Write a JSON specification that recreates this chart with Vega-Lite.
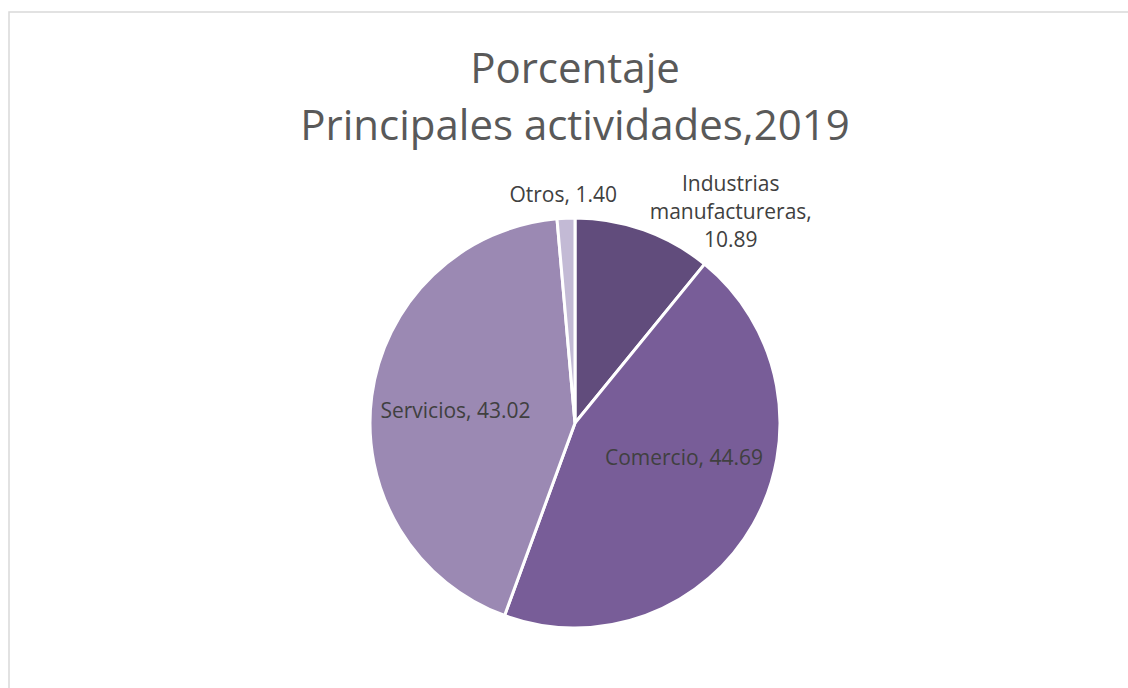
{
  "$schema": "https://vega.github.io/schema/vega-lite/v6.json",
  "autosize": "none",
  "width": 1132,
  "height": 822,
  "padding": {"left": 9, "top": 12, "right": -13, "bottom": -146},
  "background": "white",
  "view": {"stroke": "#d9d9d9", "strokeWidth": 1.5, "fill": "white"},
  "title": {
    "text": ["Porcentaje", "Principales actividades,2019"],
    "orient": "top",
    "anchor": "middle",
    "frame": "group",
    "offset": -137,
    "font": "Open Sans",
    "fontSize": 42,
    "fontWeight": "normal",
    "lineHeight": 57,
    "color": "#595959"
  },
  "config": {
    "text": {"font": "Open Sans", "fontSize": 21, "fill": "#404040"}
  },
  "data": {
    "values": [
      {"orden": 1, "actividad": "Industrias manufactureras", "valor": 10.89, "etiqueta": "Industrias\nmanufactureras,\n10.89"},
      {"orden": 2, "actividad": "Comercio", "valor": 44.69, "etiqueta": "Comercio, 44.69"},
      {"orden": 3, "actividad": "Servicios", "valor": 43.02, "etiqueta": "Servicios, 43.02"},
      {"orden": 4, "actividad": "Otros", "valor": 1.40, "etiqueta": "Otros, 1.40"}
    ]
  },
  "encoding": {
    "theta": {"field": "valor", "type": "quantitative", "stack": true},
    "order": {"field": "orden", "type": "quantitative"}
  },
  "layer": [
    {
      "mark": {"type": "arc", "outerRadius": 205, "stroke": "white", "strokeWidth": 3},
      "encoding": {
        "color": {
          "field": "actividad",
          "type": "nominal",
          "scale": {
            "domain": ["Industrias manufactureras", "Comercio", "Servicios", "Otros"],
            "range": ["#614c7c", "#785d98", "#9b89b3", "#c3bad5"]
          },
          "legend": null
        }
      }
    },
    {
      "mark": {"type": "text", "radius": 284.6, "thetaOffset": 0.237, "lineBreak": "\n", "lineHeight": 28, "align": "center", "baseline": "middle"},
      "encoding": {
        "text": {"condition": {"test": "datum.orden == 1", "field": "etiqueta"}, "value": ""}
      }
    },
    {
      "mark": {"type": "text", "radius": 114.8, "thetaOffset": -0.197, "align": "center", "baseline": "middle"},
      "encoding": {
        "text": {"condition": {"test": "datum.orden == 2", "field": "etiqueta"}, "value": ""}
      }
    },
    {
      "mark": {"type": "text", "radius": 120, "thetaOffset": -0.04, "align": "center", "baseline": "middle"},
      "encoding": {
        "text": {"condition": {"test": "datum.orden == 3", "field": "etiqueta"}, "value": ""}
      }
    },
    {
      "mark": {"type": "text", "radius": 227, "thetaOffset": -0.008, "align": "center", "baseline": "middle"},
      "encoding": {
        "text": {"condition": {"test": "datum.orden == 4", "field": "etiqueta"}, "value": ""}
      }
    }
  ]
}
